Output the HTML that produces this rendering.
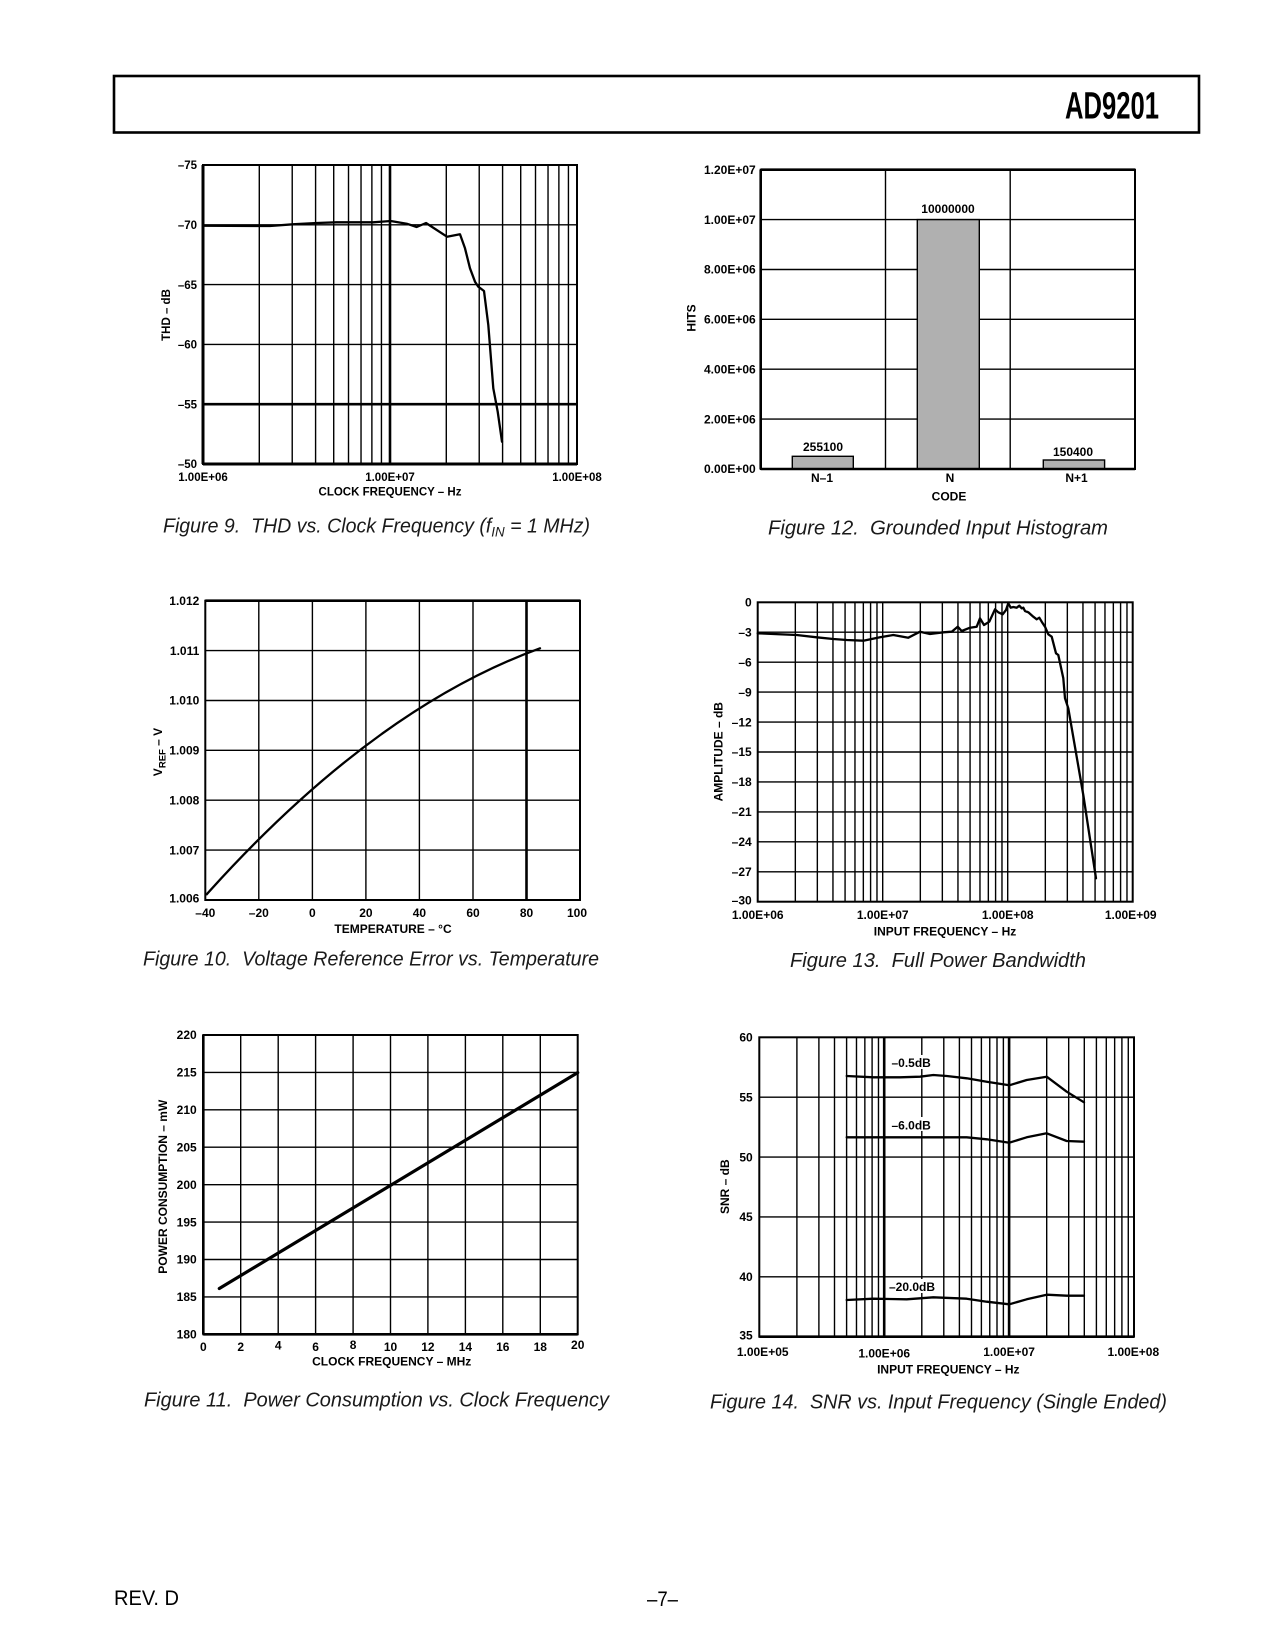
<!DOCTYPE html>
<html>
<head>
<meta charset="utf-8">
<style>
html,body{margin:0;padding:0;background:#fff;}
svg{display:block;}
text{font-family:"Liberation Sans",Arial,sans-serif;fill:#000;}
.t{font-size:12px;font-weight:bold;}
.t9{font-size:11.5px;font-weight:bold;}
.cap{font-size:20.5px;font-style:italic;fill:#1a1a1a;}
.g{stroke:#000;stroke-width:1.4;fill:none;}
.gk{stroke:#000;stroke-width:2.6;fill:none;}
.fr{stroke:#000;stroke-width:2;fill:none;}
.c{stroke:#000;stroke-width:2.3;fill:none;stroke-linejoin:round;stroke-linecap:round;}
</style>
</head>
<body>
<svg width="1275" height="1650" viewBox="0 0 1275 1650" xmlns="http://www.w3.org/2000/svg">
<rect x="0" y="0" width="1275" height="1650" fill="#fff"/>

<!-- Header -->
<rect x="114" y="76" width="1085" height="56.5" fill="none" stroke="#000" stroke-width="2.6"/>
<text x="1065" y="118.3" font-size="38" font-weight="bold" textLength="94" lengthAdjust="spacingAndGlyphs">AD9201</text>

<!-- ============ FIGURE 9 ============ -->
<g>
<path class="g" d="M259.29,165V464M292.22,165V464M315.59,165V464M333.71,165V464M348.51,165V464M361.03,165V464M371.88,165V464M381.44,165V464
M446.29,165V464M479.22,165V464M502.59,165V464M520.71,165V464M535.51,165V464M548.03,165V464M558.88,165V464M568.44,165V464"/>
<path class="gk" d="M390,165V464"/>
<path class="g" d="M203,224.8H577M203,284.6H577M203,344.4H577"/>
<path class="gk" d="M203,404.2H577"/>
<rect class="fr" x="203" y="165" width="374" height="299"/>
<path stroke="#000" stroke-width="3" d="M203,464H577M203,165V464"/>
<polyline class="c" points="203,225.7 270,226 292.7,224.3 316.7,223 336.7,222.3 373.3,222.3 390.7,221 406.7,223.7 416.7,227 426,223 447,236.7 460,234.3 465,248.3 470,268.3 475,281.7 478.3,286.7 484,291 488.3,325 493.3,388.3 497.7,411.7 502,441.7"/>
<g class="t9" text-anchor="end">
<text x="197" y="169.2">–75</text>
<text x="197" y="229">–70</text>
<text x="197" y="288.8">–65</text>
<text x="197" y="348.6">–60</text>
<text x="197" y="408.4">–55</text>
<text x="197" y="468">–50</text>
</g>
<g class="t9" text-anchor="middle">
<text x="203" y="481">1.00E+06</text>
<text x="390" y="481">1.00E+07</text>
<text x="577" y="481">1.00E+08</text>
<text x="390" y="495.5">CLOCK FREQUENCY – Hz</text>
</g>
<text class="t9" text-anchor="middle" transform="translate(170,315) rotate(-90)">THD – dB</text>
<text class="cap" x="163" y="532.7" textLength="427" lengthAdjust="spacingAndGlyphs">Figure 9.&#160; THD vs. Clock Frequency (f<tspan font-size="14" dy="4">IN</tspan><tspan dy="-4"> = 1 MHz)</tspan></text>
</g>

<!-- ============ FIGURE 12 ============ -->
<g>
<path class="g" d="M760.7,219.6H1135M760.7,269.5H1135M760.7,319.3H1135M760.7,369.2H1135M760.7,419.1H1135"/>
<path class="g" d="M885.5,169.7V469M1010.2,169.7V469"/>
<rect x="792.3" y="456.3" width="61" height="12.7" fill="#b0b0b0" stroke="#000" stroke-width="1.4"/>
<rect x="917.3" y="219.6" width="62" height="249.4" fill="#b0b0b0" stroke="#000" stroke-width="1.4"/>
<rect x="1043.3" y="460" width="61.3" height="9" fill="#b0b0b0" stroke="#000" stroke-width="1.4"/>
<rect class="fr" x="760.7" y="169.7" width="374.3" height="299.3"/>
<path stroke="#000" stroke-width="2.6" d="M760.7,169.7H1135M760.7,469H1135M760.7,169.7V469"/>
<g class="t" text-anchor="end">
<text x="755.7" y="173.9">1.20E+07</text>
<text x="755.7" y="223.8">1.00E+07</text>
<text x="755.7" y="273.7">8.00E+06</text>
<text x="755.7" y="323.5">6.00E+06</text>
<text x="755.7" y="373.4">4.00E+06</text>
<text x="755.7" y="423.3">2.00E+06</text>
<text x="755.7" y="473.2">0.00E+00</text>
</g>
<g class="t" text-anchor="middle">
<text x="823" y="450.9">255100</text>
<text x="948" y="212.9">10000000</text>
<text x="1073" y="455.9">150400</text>
<text x="822" y="482.2">N–1</text>
<text x="950" y="482.2">N</text>
<text x="1076.5" y="482.2">N+1</text>
<text x="949" y="500.7">CODE</text>
</g>
<text class="t" text-anchor="middle" transform="translate(695.5,318) rotate(-90)">HITS</text>
<text class="cap" x="768" y="534.7" textLength="340" lengthAdjust="spacingAndGlyphs">Figure 12.&#160; Grounded Input Histogram</text>
</g>

<!-- ============ FIGURE 10 ============ -->
<g>
<path class="g" d="M258.8,600.7V900M312.4,600.7V900M365.9,600.7V900M419.4,600.7V900M473,600.7V900"/>
<path class="gk" d="M526.5,600.7V900"/>
<path class="g" d="M205.3,650.6H580M205.3,700.5H580M205.3,750.3H580M205.3,800.2H580M205.3,850.1H580"/>
<rect class="fr" x="205.3" y="600.7" width="374.7" height="299.3"/>
<path stroke="#000" stroke-width="2.6" d="M205.3,600.7H580"/>
<path class="c" d="M206.7,894.3 Q373.35,708.8 540,648.3"/>
<g class="t" text-anchor="end">
<text x="199.3" y="604.9">1.012</text>
<text x="199.3" y="654.8">1.011</text>
<text x="199.3" y="704.7">1.010</text>
<text x="199.3" y="754.5">1.009</text>
<text x="199.3" y="804.4">1.008</text>
<text x="199.3" y="854.3">1.007</text>
<text x="199.3" y="902.5">1.006</text>
</g>
<g class="t" text-anchor="middle">
<text x="205.3" y="917">–40</text>
<text x="258.8" y="917">–20</text>
<text x="312.4" y="917">0</text>
<text x="365.9" y="917">20</text>
<text x="419.4" y="917">40</text>
<text x="473" y="917">60</text>
<text x="526.5" y="917">80</text>
<text x="577" y="917">100</text>
<text x="393" y="933">TEMPERATURE – °C</text>
</g>
<text class="t" text-anchor="middle" transform="translate(162,752) rotate(-90)">V<tspan font-size="9.5" dy="3.5">REF</tspan><tspan dy="-3.5"> – V</tspan></text>
<text class="cap" x="143" y="965.7" textLength="456" lengthAdjust="spacingAndGlyphs">Figure 10.&#160; Voltage Reference Error vs. Temperature</text>
</g>

<!-- ============ FIGURE 13 ============ -->
<g>
<path class="g" d="M795.33,602.3V901.7M817.34,602.3V901.7M832.96,602.3V901.7M845.07,602.3V901.7M854.97,602.3V901.7M863.34,602.3V901.7M870.59,602.3V901.7M876.98,602.3V901.7M882.7,602.3V901.7
M920.33,602.3V901.7M942.34,602.3V901.7M957.96,602.3V901.7M970.07,602.3V901.7M979.97,602.3V901.7M988.34,602.3V901.7M995.59,602.3V901.7M1001.98,602.3V901.7M1007.7,602.3V901.7
M1045.33,602.3V901.7M1067.34,602.3V901.7M1082.96,602.3V901.7M1095.07,602.3V901.7M1104.97,602.3V901.7M1113.34,602.3V901.7M1120.59,602.3V901.7M1126.98,602.3V901.7"/>
<path class="g" d="M757.7,632.2H1132.7M757.7,662.2H1132.7M757.7,692.1H1132.7M757.7,722.1H1132.7M757.7,752H1132.7M757.7,781.9H1132.7M757.7,811.9H1132.7M757.7,841.8H1132.7M757.7,871.8H1132.7"/>
<rect class="fr" x="757.7" y="602.3" width="375" height="299.4"/>
<polyline class="c" points="757.7,633.3 796.7,635 816.7,637.3 833.3,639 846.7,640 863.3,640.7 880,637.3 893.3,635 908.3,637.7 920,631.7 930,634 943.3,632.3 951.7,631.7 957.7,626.7 961.7,631 970,627.7 976.7,626.7 980,618.3 984,625 989.3,621.7 995,609.3 998.3,612.3 1002.7,614.3 1006,610 1008.3,603.3 1010.7,607.7 1013.3,607 1016.7,607.7 1019.3,605.7 1021.7,608.3 1023.3,607.7 1025,611 1028.3,612.3 1033.3,616.7 1036.7,619.3 1039.3,617.7 1041.7,621.7 1045,626.7 1048.3,634.3 1051.7,636.7 1056,653.3 1058.3,655 1063.3,678.3 1065,698.3 1068.3,708.3 1083.3,795 1096,878.3"/>
<g class="t" text-anchor="end">
<text x="751.7" y="606.5">0</text>
<text x="751.7" y="636.4">–3</text>
<text x="751.7" y="666.4">–6</text>
<text x="751.7" y="696.3">–9</text>
<text x="751.7" y="726.3">–12</text>
<text x="751.7" y="756.2">–15</text>
<text x="751.7" y="786.1">–18</text>
<text x="751.7" y="816.1">–21</text>
<text x="751.7" y="846">–24</text>
<text x="751.7" y="876">–27</text>
<text x="751.7" y="904.5">–30</text>
</g>
<g class="t" text-anchor="middle">
<text x="757.7" y="919">1.00E+06</text>
<text x="882.7" y="919">1.00E+07</text>
<text x="1007.7" y="919">1.00E+08</text>
<text x="1130.7" y="919">1.00E+09</text>
<text x="945" y="935.7">INPUT FREQUENCY – Hz</text>
</g>
<text class="t" text-anchor="middle" transform="translate(722.5,751.7) rotate(-90)">AMPLITUDE – dB</text>
<text class="cap" x="790" y="967.2" textLength="296" lengthAdjust="spacingAndGlyphs">Figure 13.&#160; Full Power Bandwidth</text>
</g>

<!-- ============ FIGURE 11 ============ -->
<g>
<path class="g" d="M240.7,1035V1334.3M278.2,1035V1334.3M315.6,1035V1334.3M353.1,1035V1334.3M390.5,1035V1334.3M427.9,1035V1334.3M465.4,1035V1334.3M502.8,1035V1334.3M540.3,1035V1334.3"/>
<path class="g" d="M203.3,1072.4H577.7M203.3,1109.8H577.7M203.3,1147.2H577.7M203.3,1184.7H577.7M203.3,1222.1H577.7M203.3,1259.5H577.7M203.3,1296.9H577.7"/>
<rect class="fr" x="203.3" y="1035" width="374.4" height="299.3"/>
<path stroke="#000" stroke-width="2.6" d="M203.3,1334.3H577.7M203.3,1035V1334.3"/>
<path stroke="#000" stroke-width="3.2" fill="none" stroke-linecap="round" d="M219.3,1288.5L577.7,1072.6"/>
<g class="t" text-anchor="end">
<text x="196.7" y="1039.2">220</text>
<text x="196.7" y="1076.6">215</text>
<text x="196.7" y="1114">210</text>
<text x="196.7" y="1151.4">205</text>
<text x="196.7" y="1188.9">200</text>
<text x="196.7" y="1226.3">195</text>
<text x="196.7" y="1263.7">190</text>
<text x="196.7" y="1301.1">185</text>
<text x="196.7" y="1338.5">180</text>
</g>
<g class="t" text-anchor="middle">
<text x="203.3" y="1351">0</text>
<text x="240.7" y="1351">2</text>
<text x="278.2" y="1349.5">4</text>
<text x="315.6" y="1351">6</text>
<text x="353.1" y="1349">8</text>
<text x="390.5" y="1351">10</text>
<text x="427.9" y="1351">12</text>
<text x="465.4" y="1351">14</text>
<text x="502.8" y="1351">16</text>
<text x="540.3" y="1351">18</text>
<text x="577.7" y="1349">20</text>
<text x="391.7" y="1365.7">CLOCK FREQUENCY – MHz</text>
</g>
<text class="t" text-anchor="middle" transform="translate(167,1186.7) rotate(-90)">POWER CONSUMPTION – mW</text>
<text class="cap" x="144" y="1406.7" textLength="465" lengthAdjust="spacingAndGlyphs">Figure 11.&#160; Power Consumption vs. Clock Frequency</text>
</g>

<!-- ============ FIGURE 14 ============ -->
<g>
<path class="g" d="M796.9,1037.3V1336.7M818.89,1037.3V1336.7M834.5,1037.3V1336.7M846.6,1037.3V1336.7M856.49,1037.3V1336.7M864.85,1037.3V1336.7M872.1,1037.3V1336.7M878.48,1037.3V1336.7
M921.8,1037.3V1336.7M943.79,1037.3V1336.7M959.4,1037.3V1336.7M971.5,1037.3V1336.7M981.39,1037.3V1336.7M989.75,1037.3V1336.7M997,1037.3V1336.7M1003.38,1037.3V1336.7
M1046.7,1037.3V1336.7M1068.69,1037.3V1336.7M1084.3,1037.3V1336.7M1096.4,1037.3V1336.7M1106.29,1037.3V1336.7M1114.65,1037.3V1336.7M1121.9,1037.3V1336.7M1128.28,1037.3V1336.7"/>
<path class="gk" d="M884.2,1037.3V1336.7M1009.1,1037.3V1336.7"/>
<path class="g" d="M759.3,1097.2H1134M759.3,1157.1H1134M759.3,1216.9H1134M759.3,1276.8H1134"/>
<rect class="fr" x="759.3" y="1037.3" width="374.7" height="299.4"/>
<path stroke="#000" stroke-width="2.6" d="M759.3,1336.7H1134"/>
<polyline class="c" points="846.7,1076 873.3,1077.3 900,1077.3 920,1076.7 933.3,1075 946.7,1076 966.7,1078.3 986.7,1081.7 1009.3,1085.3 1026.7,1080 1046.7,1076.7 1066.7,1091.7 1084,1102.3"/>
<polyline class="c" points="846.7,1137.3 900,1137.3 966.7,1137.3 986.7,1139.3 1009.3,1142.7 1026.7,1137.3 1046.7,1133.3 1066.7,1141 1084,1141.7"/>
<polyline class="c" points="846.7,1300 873.3,1298.7 906.7,1299.3 933.3,1297.3 966.7,1298.7 986.7,1301.7 1009.3,1304.3 1026.7,1299.3 1046.7,1294.7 1066.7,1295.7 1084,1295.7"/>
<rect x="889" y="1055" width="44" height="14" fill="#fff"/>
<rect x="889" y="1117" width="44" height="14" fill="#fff"/>
<rect x="887" y="1279" width="51" height="14" fill="#fff"/>
<g class="t">
<text x="891.5" y="1067">–0.5dB</text>
<text x="891.5" y="1129.3">–6.0dB</text>
<text x="889" y="1291">–20.0dB</text>
</g>
<g class="t" text-anchor="end">
<text x="752.7" y="1041.5">60</text>
<text x="752.7" y="1101.4">55</text>
<text x="752.7" y="1161.3">50</text>
<text x="752.7" y="1221.1">45</text>
<text x="752.7" y="1281">40</text>
<text x="752.7" y="1339.5">35</text>
</g>
<g class="t" text-anchor="middle">
<text x="762.7" y="1356">1.00E+05</text>
<text x="884.2" y="1357.5">1.00E+06</text>
<text x="1009.1" y="1356">1.00E+07</text>
<text x="1133.3" y="1356">1.00E+08</text>
<text x="948.3" y="1373.3">INPUT FREQUENCY – Hz</text>
</g>
<text class="t" text-anchor="middle" transform="translate(729,1186.7) rotate(-90)">SNR – dB</text>
<text class="cap" x="710" y="1408.7" textLength="457" lengthAdjust="spacingAndGlyphs">Figure 14.&#160; SNR vs. Input Frequency (Single Ended)</text>
</g>

<!-- Footer -->
<text x="114" y="1605" font-size="21" fill="#111" textLength="65" lengthAdjust="spacingAndGlyphs">REV. D</text>
<text x="647" y="1606" font-size="21" fill="#111" textLength="31" lengthAdjust="spacingAndGlyphs">–7–</text>
</svg>
</body>
</html>
